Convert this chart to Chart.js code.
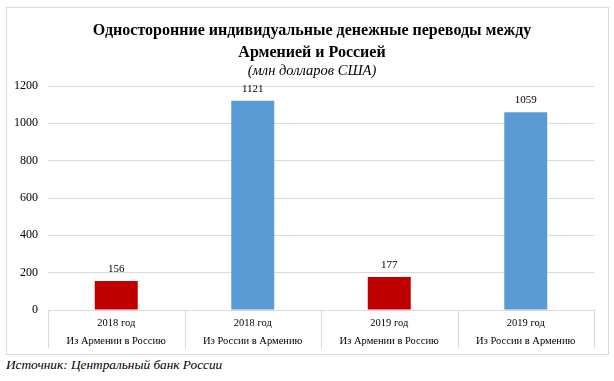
<!DOCTYPE html>
<html><head><meta charset="utf-8">
<script src="https://cdn.jsdelivr.net/npm/chart.js@4"></script>
<style>
html,body{margin:0;padding:0;background:#fff;}
#box{position:absolute;left:6px;top:7px;width:601px;height:346px;border:1px solid #d9d9d9;}
#src{position:absolute;left:6px;top:357px;font:italic 13.3px "Liberation Serif",serif;color:#000;}
</style></head><body>
<div id="box"><canvas id="c" width="601" height="346"></canvas></div>
<div id="src">Источник: Центральный банк России</div>
<script>
const titleLines = ["Односторонние индивидуальные денежные переводы между","Арменией и Россией"];
const subtitleText = "(млн долларов США)";
const years = ["2018 год","2018 год","2019 год","2019 год"];
const directions = ["Из Армении в Россию","Из России в Армению","Из Армении в Россию","Из России в Армению"];
const values = [156,1121,177,1059];
const barColors = ["#c00000","#5b9bd5","#c00000","#5b9bd5"];
const yTicks = [0,200,400,600,800,1000,1200];

const labels = years.map((y,i)=>[y,directions[i]]);
const serif = '"Liberation Serif","Times New Roman",serif';

const titles = {
  id:'titles',
  afterDraw(chart){
    const ctx = chart.ctx;
    const cx = 305;
    ctx.save();
    ctx.fillStyle = '#000';
    ctx.textAlign = 'center';
    ctx.textBaseline = 'middle';
    ctx.font = 'bold 16px '+serif;
    ctx.fillText(titleLines[0], cx, 23);
    ctx.fillText(titleLines[1], cx, 44.5);
    ctx.font = 'italic 14.5px '+serif;
    ctx.fillText(subtitleText, cx, 63);
    ctx.restore();
  }
};

const valueLabels = {
  id:'valueLabels',
  afterDatasetsDraw(chart){
    const ctx = chart.ctx;
    const meta = chart.getDatasetMeta(0);
    ctx.save();
    ctx.font = '11px '+serif;
    ctx.fillStyle = '#000';
    ctx.textAlign = 'center';
    ctx.textBaseline = 'middle';
    meta.data.forEach((bar,i)=>{
      ctx.fillText(String(values[i]), bar.x, bar.y-12);
    });
    ctx.restore();
  }
};

const separators = {
  id:'separators',
  afterDraw(chart){
    const ctx = chart.ctx, xs = chart.scales.x, area = chart.chartArea;
    const n = xs.ticks.length;
    const step = n>1 ? (xs.getPixelForTick(1)-xs.getPixelForTick(0)) : (area.right-area.left);
    ctx.save();
    ctx.strokeStyle = '#d9d9d9';
    ctx.lineWidth = 1;
    for(let i=0;i<=n;i++){
      const x = Math.round(xs.getPixelForTick(0) - step/2 + i*step) + 0.5;
      ctx.beginPath();
      ctx.moveTo(x, area.bottom);
      ctx.lineTo(x, area.bottom+38);
      ctx.stroke();
    }
    ctx.restore();
  }
};

new Chart(document.getElementById('c'),{
  type:'bar',
  data:{labels:labels,datasets:[{data:values,backgroundColor:barColors,barPercentage:0.63,categoryPercentage:0.5}]},
  options:{
    responsive:false,animation:false,
    layout:{padding:{left:0,right:14,top:78,bottom:2}},
    plugins:{legend:{display:false},tooltip:{enabled:false},title:{display:false}},
    scales:{
      x:{
        afterFit(s){s.height=42;},
        grid:{offset:true,drawOnChartArea:false,drawTicks:false},
        border:{display:true,color:'#d9d9d9'},
        ticks:{color:'#000',font:{family:serif,size:10.5,lineHeight:1.7},padding:4,maxRotation:0,autoSkip:false}
      },
      y:{
        min:0,max:1200,
        afterBuildTicks(s){s.ticks=yTicks.map(v=>({value:v}));},
        afterFit(s){s.width=41;},
        grid:{color:'#d9d9d9',drawTicks:false},
        border:{display:false},
        ticks:{color:'#000',font:{family:serif,size:12},padding:10,callback:(v)=>String(v)}
      }
    }
  },
  plugins:[valueLabels,separators,titles]
});
</script>
</body></html>
